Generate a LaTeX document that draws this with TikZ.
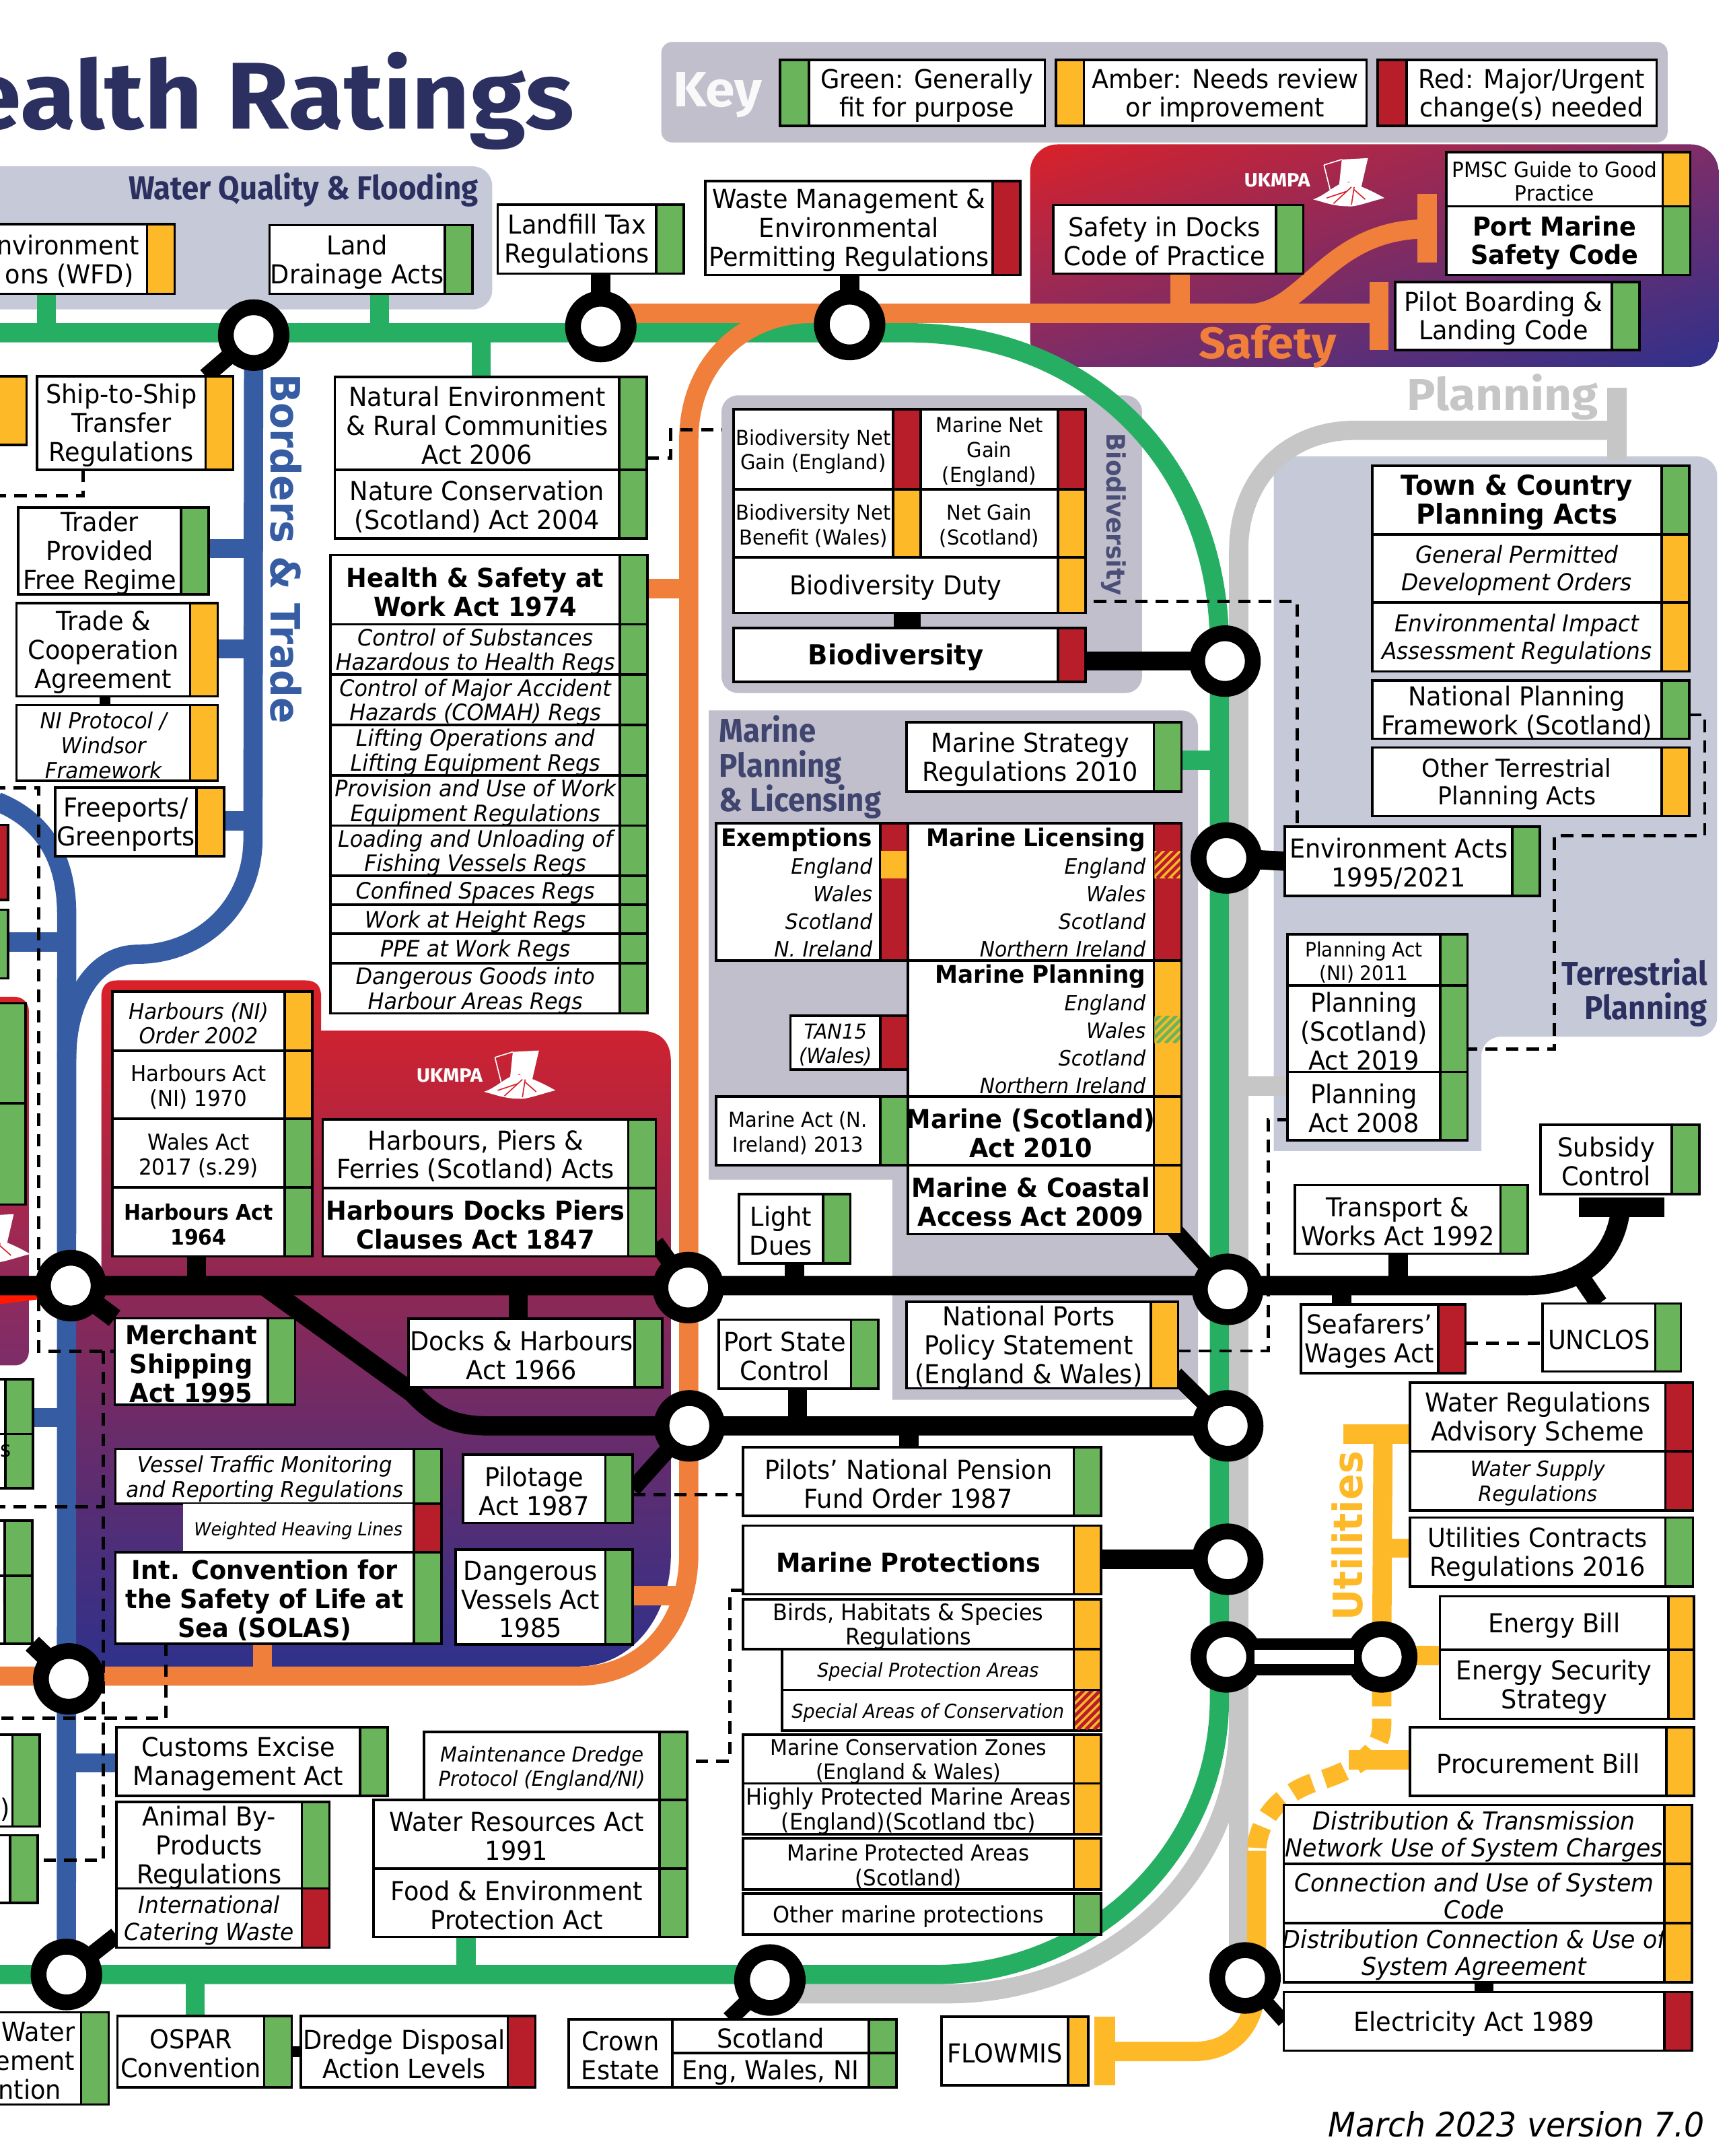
\documentclass[tikz,border=0pt]{standalone}
\usepackage{fontspec}
\setmainfont[FakeStretch=0.945]{DejaVu Sans}
\newfontfamily\headfont[FakeStretch=0.93]{Fira Sans}
\newfontfamily\titlefont[FakeStretch=1.07]{Fira Sans}
\usetikzlibrary{calc,shadings}
\pgfdeclarelayer{panels}
\pgfdeclarelayer{lines}
\pgfdeclarelayer{top}
\pgfsetlayers{panels,lines,main,top}

\definecolor{tabgreen}{HTML}{6AB55B}
\definecolor{tabamber}{HTML}{FDB927}
\definecolor{tabred}{HTML}{B81D2A}
\definecolor{linegreen}{HTML}{26AF62}
\definecolor{lineorange}{HTML}{F07F3C}
\definecolor{linegray}{HTML}{C6C6C6}
\definecolor{lineblue}{HTML}{365CA3}
\definecolor{panelgray}{HTML}{C0BFCB}
\definecolor{panelblue}{HTML}{C6CAD8}
\definecolor{navy}{HTML}{2B3060}
\definecolor{ukred}{HTML}{DA2129}
\definecolor{ukpurple}{HTML}{7D2D69}
\definecolor{uknavy}{HTML}{2F318B}

\newcommand{\fz}[2]{\fontsize{#1}{#2}\selectfont}
\def\tabw{20}

% box with a rating tab on its right: [text style]{name}{x0}{y0}{x1}{y1}{colour}{text}
\newcommand{\act}[8][]{%
  \pgfmathsetmacro{\ww}{#5-#3-\tabw}%
  \pgfmathsetmacro{\hh}{#6-#4}%
  \pgfmathsetmacro{\cx}{(#3+#5-\tabw)/2}%
  \pgfmathsetmacro{\cy}{(#4+#6)/2}%
  \pgfmathsetmacro{\tx}{#5-\tabw/2}%
  \node[actbox,actextra,minimum width=\ww pt,minimum height=\hh pt] (#2) at (\cx,\cy) {};
  \node[acttext,#1] (#2_text) at (#2.center) {#8};
  \node[acttab,fill=#7,minimum width=\tabw pt,minimum height=\hh pt] (#2_tab) at (\tx,\cy) {};
}
% key entry, tab on the left: {name}{x0}{xtab}{x1}{colour}{text}
\newcommand{\keyitem}[6]{%
  \pgfmathsetmacro{\ww}{#4-#3}%
  \pgfmathsetmacro{\cx}{(#3+#4)/2}%
  \pgfmathsetmacro{\tx}{(#2+#3)/2}%
  \pgfmathsetmacro{\tw}{#3-#2}%
  \node[actbox,minimum width=\ww pt,minimum height=48pt] (#1) at (\cx,67.7) {};
  \node[acttext] (#1_text) at (#1.center) {#6};
  \node[acttab,fill=#5,minimum width=\tw pt,minimum height=48pt] (#1_tab) at (\tx,67.7) {};
}
% striped part of a tab
\newcommand{\hatch}[6]{%
  \begin{scope}
    \clip (#1,#2) rectangle (#3,#4);
    \fill[#5] (#1,#2) rectangle (#3,#4);
    \foreach \i in {-40,-34,...,40} {\draw[#6,line width=2.4pt] ({#1+\i},#4) -- ++(40,-40);}
  \end{scope}
}
% the port authority mark, origin at the top left of the sail
\newcommand{\logosail}[2]{%
  \begin{scope}[shift={(#1,#2)}]
    \draw[white,line width=0.8pt] (8,5) -- (21,1) (8,5) -- (13,25);
    \fill[white] (21,1) -- (40,0) -- (34,26) -- (26,17) -- (19,20) -- cycle;
    \fill[white] (0,30) .. controls (10,27) and (20,15) .. (27,18) .. controls (35,20) and (45,25) .. (52,29) .. controls (40,32) and (30,36) .. (25,35) .. controls (15,35) and (8,32) .. (0,30) -- cycle;
    \draw[ukred,line width=0.8pt] (10,29) -- (25,24) (15,33) -- (28,21) (28,34) -- (30,21) (38,30) -- (30,23);
  \end{scope}
}

\tikzset{
  actbox/.style={draw=black,fill=white,line width=1.8pt,inner sep=0pt,outer sep=0pt},
  actextra/.style={},
  acttext/.style={inner sep=0pt,outer sep=0pt,align=center,yshift=-1.7pt,font=\fz{19}{21}},
  acttab/.style={draw=black,line width=1.8pt,inner sep=0pt,outer sep=0pt},
  station/.style={circle,draw=black,fill=white,line width=11.5pt,minimum size=40.5pt,inner sep=0pt,outer sep=0pt},
  f18/.style={font=\fz{18}{20}},
  f17/.style={font=\fz{17}{20}},
  f165/.style={font=\fz{16.5}{18}},
  f16/.style={font=\fz{16}{18}},
  f155/.style={font=\fz{15.5}{18}},
  f15/.style={font=\fz{15}{18}},
  f145/.style={font=\fz{14.5}{17}},
  bf20/.style={font=\fz{20}{21}\bfseries},
  bf19/.style={font=\fz{19}{21}\bfseries},
  bf155/.style={font=\fz{15.5}{18}\bfseries},
  it18/.style={font=\fz{18}{19.5}\itshape},
  it17/.style={font=\fz{17}{20}\itshape},
  it165/.style={font=\fz{16.5}{18}\itshape},
  it16/.style={font=\fz{16}{18}\itshape},
  it155/.style={font=\fz{15.5}{18}\itshape},
  it15/.style={font=\fz{15}{18}\itshape},
  it14/.style={font=\fz{14}{16}\itshape},
  rows/.style={align=right,yshift=1.2pt,xshift=-3pt,font=\fz{15.4}{20}\itshape},
  head/.style={font=\fz{24}{25}\headfont\bfseries,text=navy,inner sep=0pt},
  metro/.style={line width=14pt,line join=round},
  greenl/.style={metro,linegreen},
  orangel/.style={metro,lineorange},
  grayl/.style={metro,linegray},
  bluel/.style={metro,lineblue},
  blackl/.style={metro,black},
  yellowl/.style={metro,tabamber},
  dashl/.style={black,line width=2.4pt,dash pattern=on 9pt off 6pt},
}

\begin{document}
\begin{tikzpicture}[x=1pt,y=-1pt]
\useasboundingbox (0,0) rectangle (1259,1568);

% ===== PANELS =====
\begin{pgfonlayer}{panels}
\fill[panelgray,rounded corners=8pt] (481,30.5) rectangle (1213,103.6);
\fill[panelblue,rounded corners=14pt] (-30,121) rectangle (358,225);
\shade[rounded corners=20pt,upper left=ukred,upper right=ukpurple,lower left=ukpurple,lower right=uknavy] (749.3,105) rectangle (1250,266.7);
\fill[panelgray,rounded corners=12pt] (524.8,287.5) rectangle (830.7,504);
\fill[panelgray,rounded corners=12pt] (515.5,516.6) -- (871.4,516.6) -- (871.4,1018) [sharp corners] -- (649,1018) -- (649,858) -- (515.5,858) -- cycle;
\fill[panelblue,rounded corners=14pt] (926.5,332) -- (1249,332) -- (1249,754) -- (1077.5,754) [sharp corners] -- (1077.5,837) -- (926.5,837) -- cycle;
\shade[top color=ukred,middle color=ukpurple,bottom color=uknavy] (73.7,940) -- (73.7,725) .. controls (73.7,717) and (78,713) .. (85,713) -- (222,713) .. controls (230,713) and (233.6,717) .. (233.6,725) -- (233.6,749.6) -- (465,749.6) .. controls (480,749.6) and (488,757) .. (488,772) -- (488,1130) .. controls (488,1175) and (460,1212) .. (420,1212) -- (48,1212) -- (48,940) -- cycle;
\shade[rounded corners=10pt,top color=ukred,bottom color=ukpurple] (-30,725) rectangle (21,993);
\end{pgfonlayer}

% ===== HEADINGS =====
\node[anchor=base east,inner sep=0pt,font=\fz{69}{80}\titlefont\bfseries,text=navy] (title) at (418,93.7) {ealth Ratings};
\node[font=\fz{36}{40}\titlefont\bfseries,text=white!90!panelgray,inner sep=0pt] (key_title) at (522,69) {Key};
\node[head,anchor=east] (water_head) at (348,138) {Water Quality \& Flooding};
\node[head,anchor=north west,align=left,text=navy!90!white,font=\fz{24}{25.3}\headfont\bfseries] (marine_head) at (523,520) {Marine\\Planning\\\& Licensing};
\node[head,anchor=east,align=right] (terr_head) at (1242,722) {Terrestrial\\Planning};
\node[font=\fz{32}{34}\titlefont\bfseries,text=lineorange,inner sep=0pt] (safety_head) at (922,252) {Safety};
\node[font=\fz{32.5}{34}\titlefont\bfseries,text=linegray,inner sep=0pt] (planning_head) at (1093,289) {Planning};
\node[font=\fz{29.5}{30}\bfseries,text=lineblue,rotate=-90,inner sep=0pt] (borders_head) at (208,399) {Borders \& Trade};
\node[font=\fz{29.5}{30}\bfseries,text=tabamber,rotate=90,inner sep=0pt] (util_head) at (980,1117) {Utilities};
\node[font=\fz{18.5}{19}\bfseries,text=navy!85!white,rotate=-90,inner sep=0pt] (biodiv_head) at (810,374) {Biodiversity};
\node[font=\fz{24.5}{26}\itshape,anchor=east,inner sep=0pt] (version) at (1240,1545) {March 2023 version 7.0};

% ===== KEY =====
\keyitem{key_green}{567.5}{588.4}{760}{tabgreen}{Green: Generally\\fit for purpose}
\keyitem{key_amber}{768}{788.4}{994}{tabamber}{Amber: Needs review\\or improvement}
\keyitem{key_red}{1002}{1023}{1205}{tabred}{Red: Major/Urgent\\change(s) needed}

% ===== MARKS =====
\node[font=\fz{14}{15}\titlefont\bfseries,text=white,inner sep=0pt] (mark_a) at (929,131) {UKMPA};
\logosail{955}{115}
\node[font=\fz{14}{15}\titlefont\bfseries,text=white,inner sep=0pt] (mark_b) at (327,782) {UKMPA};
\logosail{352}{764}
\logosail{-30}{883}

% ===== TOP ROW =====
\act[align=right]{wfd}{-8}{163}{127}{213.7}{tabamber}{nvironment\\ons (WFD)\hspace*{4pt}}
\act{land_drain}{196}{163.7}{343.5}{213.7}{tabgreen}{Land\\Drainage Acts}
\act{landfill}{362}{148.7}{497.4}{199}{tabgreen}{Landfill Tax\\Regulations}
\act{waste}{513}{131.7}{742}{200}{tabred}{Waste Management \&\\Environmental\\Permitting Regulations}
\act{docks_code}{766}{149}{948}{199}{tabgreen}{Safety in Docks\\Code of Practice}
\act[font=\fz{15.3}{17}]{pmsc}{1052}{110.5}{1229.4}{150}{tabamber}{PMSC Guide to Good\\Practice}
\act[bf19]{port_code}{1052}{150}{1229.4}{200}{tabgreen}{Port Marine\\Safety Code}
\act{pilot_code}{1014.7}{205}{1192.4}{254.5}{tabgreen}{Pilot Boarding \&\\Landing Code}

% ===== BORDERS AND TRADE =====
\act{left_a}{-30}{273.7}{19.3}{323.7}{tabamber}{}
\act{ship_ship}{27}{273.7}{169.6}{341.7}{tabamber}{Ship-to-Ship\\Transfer\\Regulations}
\act{trader}{13.3}{369}{151.8}{432.4}{tabgreen}{Trader\\Provided\\Free Regime}
\act{trade_coop}{12}{438.6}{158.3}{506.4}{tabamber}{Trade \&\\Cooperation\\Agreement}
\act[it16]{ni_protocol}{12}{512.8}{158.3}{567.9}{tabamber}{NI Protocol /\\Windsor\\Framework}
\act{freeports}{40.3}{572.8}{163}{622.8}{tabamber}{Freeports/\\Greenports}

% ===== HEALTH AND SAFETY COLUMN =====
\act{nat_env}{243.6}{274}{470.4}{341.7}{tabgreen}{Natural Environment\\\& Rural Communities\\Act 2006}
\act{nat_cons}{243.6}{341.7}{470.4}{391.7}{tabgreen}{Nature Conservation\\(Scotland) Act 2004}
\act[bf19]{hswa}{240.4}{403.6}{471}{454}{tabgreen}{Health \& Safety at\\Work Act 1974}
\act[it165]{coshh}{240.4}{454}{471}{490.6}{tabgreen}{Control of Substances\\Hazardous to Health Regs}
\act[it165]{comah}{240.4}{490.6}{471}{527.3}{tabgreen}{Control of Major Accident\\Hazards (COMAH) Regs}
\act[it165]{loler}{240.4}{527.3}{471}{563.9}{tabgreen}{Lifting Operations and\\Lifting Equipment Regs}
\act[it165]{puwer}{240.4}{563.9}{471}{600.4}{tabgreen}{Provision and Use of Work\\Equipment Regulations}
\act[it165]{fishing}{240.4}{600.4}{471}{636.9}{tabgreen}{Loading and Unloading of\\Fishing Vessels Regs}
\act[it165]{confined}{240.4}{636.9}{471}{657.9}{tabgreen}{Confined Spaces Regs}
\act[it165]{height}{240.4}{657.9}{471}{679}{tabgreen}{Work at Height Regs}
\act[it165]{ppe}{240.4}{679}{471}{700.4}{tabgreen}{PPE at Work Regs}
\act[it165]{dangoods}{240.4}{700.4}{471}{737}{tabgreen}{Dangerous Goods into\\Harbour Areas Regs}

% ===== BIODIVERSITY =====
\act[f15]{bng_eng}{533.6}{297.5}{669.6}{356}{tabred}{Biodiversity Net\\Gain (England)}
\act[f15]{mng_eng}{669.6}{297.5}{789.6}{356}{tabred}{Marine Net\\Gain\\(England)}
\act[f15]{bnb_wal}{533.6}{356}{669.6}{405.4}{tabamber}{Biodiversity Net\\Benefit (Wales)}
\act[f15]{ng_sco}{669.6}{356}{789.6}{405.4}{tabamber}{Net Gain\\(Scotland)}
\act{bio_duty}{533.6}{405.4}{789.6}{445.8}{tabamber}{Biodiversity Duty}
\act[bf20]{bio_main}{533.6}{456.6}{789.6}{496}{tabred}{Biodiversity}

% ===== MARINE =====
\act{mar_strat}{659.5}{525.4}{859.3}{575.8}{tabgreen}{Marine Strategy\\Regulations 2010}
\act[rows,text width=114pt]{exempt}{520.7}{598.6}{660.3}{698.6}{tabred}{{\upshape\bfseries\fz{17.7}{20}Exemptions}\\England\\Wales\\Scotland\\N. Ireland}
\act[rows,text width=173pt]{mar_lic}{660.3}{598.6}{859.3}{698.6}{tabred}{{\upshape\bfseries\fz{17.7}{20}Marine Licensing}\\England\\Wales\\Scotland\\Northern Ireland}
\act[rows,text width=173pt]{mar_plan}{660.3}{698.6}{859.3}{797.5}{tabamber}{{\upshape\bfseries\fz{17.7}{20}Marine Planning}\\England\\Wales\\Scotland\\Northern Ireland}
\fill[tabamber] (640.7,619) rectangle (659.4,638.6);
\hatch{839.7}{619}{858.4}{638.6}{tabamber}{tabred}
\hatch{839.7}{739}{858.4}{758.6}{tabamber}{tabgreen}
\act[it15]{tan15}{575}{738.6}{660.3}{777.9}{tabred}{TAN15\\(Wales)}
\act[f15]{mar_ni}{520.7}{797.5}{660.3}{847.5}{tabgreen}{Marine Act (N.\\Ireland) 2013}
\act[bf19]{mar_sco}{660.3}{797.5}{859.3}{847.5}{tabamber}{Marine (Scotland)\\Act 2010}
\act[bf19]{mar_coast}{660.3}{847.5}{859.3}{897.5}{tabamber}{Marine \& Coastal\\Access Act 2009}
\act{nat_ports}{659.5}{946.7}{857}{1009.7}{tabamber}{National Ports\\Policy Statement\\(England \& Wales)}

% ===== TERRESTRIAL PLANNING =====
\act[bf20]{town_country}{998}{338.7}{1228.6}{388.7}{tabgreen}{Town \& Country\\Planning Acts}
\act[it17]{gpdo}{998}{388.7}{1228.6}{438}{tabamber}{General Permitted\\Development Orders}
\act[it17]{eia}{998}{438}{1228.6}{488.3}{tabamber}{Environmental Impact\\Assessment Regulations}
\act{npf}{998}{494.8}{1228.6}{537.3}{tabgreen}{National Planning\\Framework (Scotland)}
\act[f18]{other_terr}{998}{543.6}{1228.6}{593.6}{tabamber}{Other Terrestrial\\Planning Acts}
\act{env_acts}{934.6}{601}{1120}{651.6}{tabgreen}{Environment Acts\\1995/2021}
\act[f145]{plan_ni}{936.6}{679.6}{1067.5}{716.6}{tabgreen}{Planning Act\\(NI) 2011}
\act{plan_sco}{936.6}{716.6}{1067.5}{779.6}{tabgreen}{Planning\\(Scotland)\\Act 2019}
\act{plan_2008}{936.6}{779.6}{1067.5}{829.3}{tabgreen}{Planning\\Act 2008}

% ===== HARBOURS =====
\act[it16]{harb_ni}{81.8}{721}{227}{764}{tabamber}{Harbours (NI)\\Order 2002}
\act[f16]{harb_1970}{81.8}{764}{227}{813.7}{tabamber}{Harbours Act\\(NI) 1970}
\act[f16]{wales_act}{81.8}{813.7}{227}{863.7}{tabgreen}{Wales Act\\2017 (s.29)}
\act[bf155]{harb_1964}{81.8}{863.7}{227}{913.7}{tabgreen}{Harbours Act\\1964}
\act{harb_sco}{234.8}{814}{477}{864}{tabgreen}{Harbours, Piers \&\\Ferries (Scotland) Acts}
\act[bf19]{harb_1847}{234.8}{864}{477}{913.7}{tabgreen}{Harbours Docks Piers\\Clauses Act 1847}
\act[bf19]{merchant}{83.4}{958.7}{214.7}{1021.5}{tabgreen}{Merchant\\Shipping\\Act 1995}
\act{docks_1966}{297}{959}{481.7}{1009}{tabgreen}{Docks \& Harbours\\Act 1966}
\act[it16]{vtm}{84}{1053.7}{321}{1093.7}{tabgreen}{Vessel Traffic Monitoring\\and Reporting Regulations}
\begingroup
\tikzset{actextra/.style={draw=none}}
\act[font=\fz{13.2}{15}\itshape]{heaving}{133}{1093.7}{321}{1128.9}{tabred}{Weighted Heaving Lines}
\endgroup
\act[bf19]{solas}{84}{1128.9}{321}{1195.5}{tabgreen}{Int. Convention for\\the Safety of Life at\\Sea (SOLAS)}
\act{pilotage}{336.7}{1058}{460.3}{1107.5}{tabgreen}{Pilotage\\Act 1987}
\act{dang_ves}{331.4}{1127}{460.3}{1196}{tabgreen}{Dangerous\\Vessels Act\\1985}

% ===== MIDDLE =====
\act{light_dues}{537.6}{868.5}{618.6}{918.8}{tabgreen}{Light\\Dues}
\act{port_state}{522.8}{959.8}{639}{1009.8}{tabgreen}{Port State\\Control}
\act{pilots_pension}{540.5}{1052.5}{801}{1102.5}{tabgreen}{Pilots' National Pension\\Fund Order 1987}
\act[bf19]{mar_prot}{540.5}{1109.5}{801}{1159.5}{tabamber}{Marine Protections}
\act[f165]{birds}{540.5}{1163}{801}{1199.2}{tabamber}{Birds, Habitats \& Species\\Regulations}
\act[it14]{spa}{569}{1199.2}{801}{1229}{tabamber}{Special Protection Areas}
\act[it14]{sac}{569}{1229}{801}{1258.7}{tabamber}{Special Areas of Conservation}
\hatch{781.9}{1230}{800.1}{1257.8}{tabamber}{tabred}
\act[f155]{mcz}{540.5}{1261.5}{801}{1297}{tabamber}{Marine Conservation Zones\\(England \& Wales)}
\act[f165]{hpma}{540.5}{1297}{801}{1334}{tabamber}{Highly Protected Marine Areas\\(England)(Scotland tbc)}
\act[f16]{mpa}{540.5}{1337}{801}{1374}{tabamber}{Marine Protected Areas\\(Scotland)}
\act[f165]{other_mar}{540.5}{1377}{801}{1407}{tabgreen}{Other marine protections}
\act[it15]{dredge_prot}{308.5}{1259.7}{499.8}{1309}{tabgreen}{Maintenance Dredge\\Protocol (England/NI)}
\act{water_res}{271.8}{1309}{499.8}{1359}{tabgreen}{Water Resources Act\\1991}
\act{food_env}{271.8}{1359}{499.8}{1408.7}{tabgreen}{Food \& Environment\\Protection Act}
\act{customs}{84.6}{1256.2}{282}{1306}{tabgreen}{Customs Excise\\Management Act}
\act{animal}{84.6}{1310.4}{239.6}{1373.4}{tabgreen}{Animal By-\\Products\\Regulations}
\act[it17]{catering}{84.6}{1373.4}{239.6}{1416.4}{tabred}{International\\Catering Waste}

% ===== BOTTOM ROW =====
\act[align=right]{left_water}{-8}{1463.5}{79}{1530.5}{tabgreen}{Water\\ement\hspace*{2pt}\\ntion\hspace*{10pt}}
\act{ospar}{85.4}{1466}{212.2}{1518}{tabgreen}{OSPAR\\Convention}
\act{dredge_levels}{218.7}{1466}{389.4}{1518}{tabred}{Dredge Disposal\\Action Levels}
\node[actbox,minimum width=75.4pt,minimum height=49.5pt] (crown) at (451.3,1493.2) {};
\node[acttext] (crown_text) at (crown.center) {Crown\\Estate};
\act{crown_sco}{489}{1468.5}{652}{1493}{tabgreen}{Scotland}
\act{crown_eng}{489}{1493}{652}{1518}{tabgreen}{Eng, Wales, NI}
\def\tabw{14.6}
\act{flowmis}{685}{1466.7}{791.6}{1516.5}{tabamber}{FLOWMIS}
\def\tabw{20}

% ===== RIGHT COLUMN =====
\act{transport}{942}{861.8}{1111.4}{911.8}{tabgreen}{Transport \&\\Works Act 1992}
\act{subsidy}{1120.7}{818}{1236}{868.3}{tabgreen}{Subsidy\\Control}
\act{seafarers}{946.3}{948.8}{1066}{998.8}{tabred}{Seafarers’\\Wages Act}
\def\tabw{18.6}
\act{unclos}{1122}{948}{1222.6}{997.5}{tabgreen}{UNCLOS}
\def\tabw{20}
\act{water_regs}{1025.6}{1005.5}{1231.4}{1055.5}{tabred}{Water Regulations\\Advisory Scheme}
\act[it155]{water_supply}{1025.6}{1055.5}{1231.4}{1098.5}{tabred}{Water Supply\\Regulations}
\act{util_con}{1025.6}{1103.7}{1231.4}{1153.7}{tabgreen}{Utilities Contracts\\Regulations 2016}
\def\tabw{18.4}
\act{energy_bill}{1047.4}{1161}{1232}{1200}{tabamber}{Energy Bill}
\act{energy_sec}{1047.4}{1200}{1232}{1250}{tabamber}{Energy Security\\Strategy}
\def\tabw{20}
\act{procure}{1025.6}{1256}{1232}{1306}{tabamber}{Procurement Bill}
\act[it18]{dist_trans}{933.8}{1312.7}{1230.6}{1355.4}{tabamber}{Distribution \& Transmission\\Network Use of System Charges}
\act[it18]{conn_use}{933.8}{1355.4}{1230.6}{1398.7}{tabamber}{Connection and Use of System\\Code}
\act[it18]{dist_conn}{933.8}{1398.7}{1230.6}{1441.7}{tabamber}{Distribution Connection \& Use of\\System Agreement}
\act{elec_act}{933.8}{1448.7}{1230.6}{1491.4}{tabred}{Electricity Act 1989}

% ===== LEFT EDGE =====
\act{left_red}{-30}{600}{6}{654.6}{tabred}{}
\act{left_b}{-30}{661.6}{6}{711.6}{tabgreen}{}
\act{left_c}{-30}{729.6}{18.5}{802.5}{tabgreen}{}
\act{left_d}{-30}{802.5}{18.5}{876}{tabgreen}{}
\act{left_e}{-30}{1003}{24}{1043}{tabgreen}{}
\act{left_f}{-30}{1043}{24}{1082.5}{tabgreen}{}
\act{left_g}{-30}{1106}{23.5}{1146}{tabgreen}{}
\act{left_h}{-30}{1146}{23.5}{1195.4}{tabgreen}{}
\act{left_i}{-30}{1261.4}{29}{1328.4}{tabgreen}{}
\act{left_j}{-30}{1334.7}{27.5}{1384}{tabgreen}{}
\node[anchor=west,inner sep=0pt,font=\fz{16}{18}] (frag_s) at (0,1055) {s};
\node[anchor=west,inner sep=0pt,font=\fz{16}{18}] (frag_l) at (1,1160) {l};
\node[anchor=west,inner sep=0pt,font=\fz{19}{21}] (frag_p) at (0,1316) {)};

% ===== STATIONS =====
\begin{pgfonlayer}{top}
\node[station] (st_border) at (184.5,243.7) {};
\node[station] (st_landfill) at (437,237.5) {};
\node[station] (st_waste) at (618,236) {};
\node[station] (st_biodiv) at (891,480.8) {};
\node[station] (st_envacts) at (892,624) {};
\node[station] (st_west) at (51.5,935) {};
\node[station] (st_docks) at (500.6,936.4) {};
\node[station] (st_coast) at (893,937.7) {};
\node[station] (st_pilot) at (501.4,1037) {};
\node[station] (st_ports) at (893,1037) {};
\node[station] (st_protect) at (893,1134) {};
\node[station] (st_util_a) at (892,1205) {};
\node[station] (st_util_b) at (1005,1205) {};
\node[station] (st_solas) at (50,1221) {};
\node[station] (st_customs) at (48.3,1436) {};
\node[station] (st_crown) at (560,1440) {};
\node[station] (st_elec) at (905.6,1438.5) {};
\draw[white,line width=10pt] (st_util_a) -- (st_util_b);
\end{pgfonlayer}

\begin{pgfonlayer}{lines}
% ===== GRAY LINE =====
\coordinate (gr_end) at (1176,282);
\coordinate (gr_foot) at (1176,335);
\draw[grayl] (gr_end) -- (gr_foot);
\coordinate (gr_turn) at (1176,313);
\draw[grayl] (gr_turn) -- (985,313) .. controls (935,313) and (901,350) .. (901,400) -- (901,1420);
\draw[grayl] (901,1250) .. controls (901,1370) and (800,1450) .. (690,1450) -- (st_crown |- 690,1450);
\coordinate (gr_tap) at (901,790);
\draw[grayl] (gr_tap) -- (gr_tap -| plan_2008.west);

% ===== GREEN LINE =====
\coordinate (gn_left) at (-5,242);
\draw[greenl] (gn_left) -- (660,242) .. controls (795,242) and (887,340) .. (887,470) -- (887,1235) .. controls (887,1350) and (790,1436) .. (680,1436) -- (-5,1436);
\coordinate (gn_wfd) at (33.8,242);
\draw[greenl] (gn_wfd) -- (gn_wfd |- wfd.south);
\coordinate (gn_land) at (276,242);
\draw[greenl] (gn_land) -- (gn_land |- land_drain.south);
\coordinate (gn_nat) at (350,242);
\draw[greenl] (gn_nat) -- (gn_nat |- nat_env.north);
\coordinate (gn_strat) at (887,553);
\draw[greenl] (gn_strat) -- (gn_strat -| mar_strat_tab.east);
\coordinate (gn_food) at (339,1436);
\draw[greenl] (gn_food) -- (gn_food |- food_env.south);
\coordinate (gn_ospar) at (142,1436);
\draw[greenl] (gn_ospar) -- (gn_ospar |- ospar.north);

% ===== ORANGE LINE =====
\coordinate (or_left) at (-5,1219);
\draw[orangel] (or_left) -- (420,1219) .. controls (470,1219) and (501,1180) .. (501,1130) -- (501,320) .. controls (501,265) and (540,228) .. (590,228);
\coordinate (or_t_low) at (1003,228);
\draw[orangel] (st_landfill |- or_t_low) -- (or_t_low);
\draw[orangel] (1003,205) -- (1003,254.5);
\draw[orangel] (908,228) .. controls (950,228) and (965,166.5) .. (1038,166.5);
\draw[orangel] (1038,141) -- (1038,191);
\coordinate (or_docks) at (858.5,228);
\draw[orangel] (or_docks) -- (or_docks |- docks_code.south);
\coordinate (or_hswa) at (501,428);
\draw[orangel] (or_hswa) -- (or_hswa -| hswa_tab.east);
\coordinate (or_dang) at (501,1160.5);
\draw[orangel] (or_dang) -- (or_dang -| dang_ves_tab.east);
\coordinate (or_solas) at (191,1219);
\draw[orangel] (or_solas) -- (or_solas |- solas.south);

% ===== BLUE LINE =====
\draw[bluel] (st_border) -- (184,610) .. controls (184,660) and (145,694) .. (100,694) .. controls (70,694) and (48.5,725) .. (48.5,770);
\draw[bluel] (-2,583) .. controls (28,595) and (48.5,620) .. (48.5,665) -- (st_customs);
\coordinate (bl_trader) at (184,399);
\draw[bluel] (bl_trader) -- (bl_trader -| trader_tab.east);
\coordinate (bl_coop) at (184,472);
\draw[bluel] (bl_coop) -- (bl_coop -| trade_coop_tab.east);
\coordinate (bl_free) at (184,597);
\draw[bluel] (bl_free) -- (bl_free -| freeports_tab.east);
\coordinate (bl_left_a) at (48.5,685);
\draw[bluel] (bl_left_a) -- (bl_left_a -| left_b_tab.east);
\coordinate (bl_left_b) at (48.5,1031);
\draw[bluel] (bl_left_b) -- (bl_left_b -| left_f_tab.east);
\coordinate (bl_customs) at (48.5,1282);
\draw[bluel] (bl_customs) -- (bl_customs -| customs.west);

% ===== BLACK LINE =====
\draw[metro,color=red!80!orange] (-5,942) -- (st_west);
\coordinate (bk_left) at (-5,935);
\draw[blackl] (bk_left) -- (1110,935) .. controls (1150,935) and (1175,915) .. (1179,878);
\coordinate (bk_t_a) at (1148.5,878);
\coordinate (bk_t_b) at (1210.5,878);
\draw[blackl] (bk_t_a) -- (bk_t_b);
\draw[blackl] (192,935) -- (300,1013) .. controls (316,1030) and (330,1037) .. (355,1037) -- (st_ports);
\draw[blackl,line width=27pt] (st_util_a) -- (st_util_b);
\coordinate (bk_unclos) at (1150,929);
\draw[blackl,line width=13pt] (bk_unclos) -- (unclos.north);
\draw[blackl] (st_landfill) -- (st_landfill |- landfill.south);
\draw[blackl] (st_waste) -- (st_waste |- waste.south);
\draw[blackl,line width=12pt] (st_border) -- (ship_ship_tab.north west);
\draw[blackl] (st_biodiv) -- (st_biodiv -| bio_main_tab.east);
\draw[blackl] (st_envacts) -- (env_acts.west);
\draw[blackl] (st_west) -- (merchant.north west);
\coordinate (bk_h1964) at (143,935);
\draw[blackl] (bk_h1964) -- (bk_h1964 |- harb_1964.south);
\coordinate (bk_d1966) at (377,935);
\draw[blackl] (bk_d1966) -- (bk_d1966 |- docks_1966.north);
\draw[blackl,line width=12pt] (st_docks) -- ($(harb_1847_tab.south east)+(0,-10)$);
\draw[blackl,line width=12pt] (st_coast) -- ($(mar_coast_tab.south east)+(-6,-4)$);
\draw[blackl,line width=12pt] (st_ports) -- ($(nat_ports_tab.south east)+(-2,-10)$);
\coordinate (bk_light) at (578,935);
\draw[blackl] (bk_light) -- (bk_light |- light_dues.south);
\coordinate (bk_state) at (580,1037);
\draw[blackl] (bk_state) -- (bk_state |- port_state.south);
\coordinate (bk_pension) at (661,1037);
\draw[blackl] (bk_pension) -- (bk_pension |- pilots_pension.north);
\draw[blackl,line width=12pt] (st_pilot) -- (pilotage_tab.east);
\draw[blackl] (st_protect) -- (st_protect -| mar_prot_tab.east);
\coordinate (bk_transport) at (1017,935);
\draw[blackl] (bk_transport) -- (bk_transport |- transport.south);
\coordinate (bk_seafarers) at (976,935);
\draw[blackl] (bk_seafarers) -- (bk_seafarers |- seafarers.north);
\draw[blackl] (st_solas) -- (left_h_tab.south east);
\draw[blackl,line width=12pt] (st_customs) -- ($(catering.south west)+(0,-9)$);
\draw[blackl,line width=12pt] (st_crown) -- ($(crown_sco.north)+(-30,0)$);
\draw[blackl,line width=10pt] (st_elec) -- (elec_act.west);
\draw[blackl,line width=8pt] (ospar_tab.east) -- (dredge_levels.west);
\coordinate (bk_dist) at (1079.5,1445);
\draw[blackl,line width=13.7pt] (bk_dist |- dist_conn.south) -- (bk_dist |- elec_act.north);
\coordinate (bk_trade) at (76.3,510);
\draw[blackl,line width=7.5pt] (bk_trade |- trade_coop.south) -- (bk_trade |- ni_protocol.north);
\coordinate (bk_bio) at (660,450);
\draw[blackl,line width=19.6pt] (bk_bio |- bio_duty.south) -- (bk_bio |- bio_main.north);

% ===== YELLOW LINE =====
\coordinate (ye_t) at (803.5,1492);
\draw[yellowl] (ye_t) -- (868,1492) .. controls (895,1492) and (914,1475) .. (914,1440) -- (914,1346);
\draw[yellowl,line width=15pt] (803.5,1466.7) -- (803.5,1516.5);
\draw[yellowl,dash pattern=on 16pt off 9pt] (1005,1225) -- (1005,1255) .. controls (1005,1275) and (985,1287) .. (960,1295) .. controls (935,1302) and (915,1320) .. (914,1346);
\coordinate (ye_proc) at (981,1280);
\draw[yellowl] (ye_proc) -- (ye_proc -| procure.west);
\draw[yellowl] (st_util_b) -- (1006,1043);
\coordinate (ye_top) at (977,1043);
\draw[yellowl] (ye_top) -- (ye_top -| water_regs.west);
\coordinate (ye_util) at (1006,1126);
\draw[yellowl] (ye_util) -- (ye_util -| util_con.west);
\coordinate (ye_energy) at (1006,1204);
\draw[yellowl] (ye_energy) -- (ye_energy -| energy_bill.west);

% ===== DASHED LINKS =====
\draw[dashl] (nat_env_tab.east |- 471,333) -- (488,333) -- (488,312.5) -- (525.5,312.5);
\draw[dashl] (ship_ship.south -| 60.4,342) -- (60.4,360.7) -- (-5,360.7);
\draw[dashl] (-5,573) -- (28.2,573) -- (28.2,982.7) -- (merchant.west |- 84,982.7);
\draw[dashl] (75.3,982.7) -- (75.3,1353) -- (28,1353);
\draw[dashl] (-5,1096) -- (75.3,1096);
\draw[dashl] (solas.south -| 120.8,1196) -- (120.8,1249.7) -- (-5,1249.7);
\draw[dashl] (pilotage_tab.east |- 460,1087) -- (pilots_pension.west |- 540,1087);
\draw[dashl] (mar_prot.west |- 540,1156.5) -- (530.8,1156.5) -- (530.8,1281) -- (dredge_prot_tab.east |- 500,1281);
\draw[dashl] (795.6,437.4) -- (943.5,437.4) -- (943.5,437.4 |- env_acts.north);
\draw[dashl] (npf_tab.east |- 1229,519.9) -- (1240,519.9) -- (1240,607.8) -- (1130.7,607.8) -- (1130.7,762.9) -- (plan_sco_tab.east |- 1067,762.9);
\draw[dashl] (nat_ports_tab.east |- 858,982.5) -- (922.5,982.5) -- (922.5,814.4) -- (plan_2008.west |- 936,814.4);
\draw[dashl] (seafarers_tab.east |- 1066,976.7) -- (unclos.west |- 1122,976.7);
\end{pgfonlayer}

\end{tikzpicture}
\end{document}
